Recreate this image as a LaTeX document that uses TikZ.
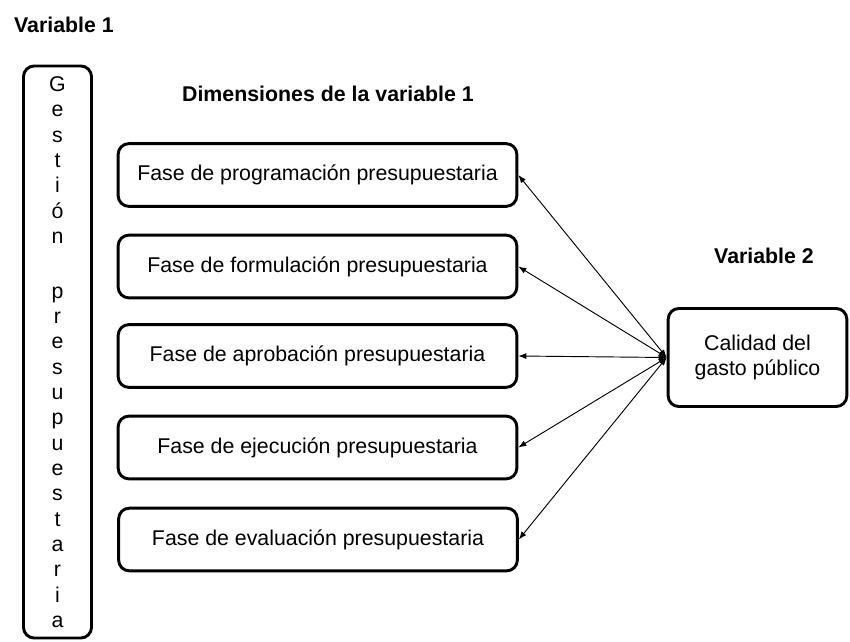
\documentclass[tikz,border=0pt]{standalone}
\usepackage{fontspec}
\setmainfont{Liberation Sans}
\usetikzlibrary{arrows.meta}

\tikzset{
    caja/.style={draw, line width=2.2pt, rounded corners=8pt, align=center,
        font=\fontsize{16pt}{19pt}\selectfont},
    cajafase/.style={caja, minimum width=299pt, minimum height=47pt},
    titulo/.style={anchor=base, font=\fontsize{16pt}{19pt}\selectfont\bfseries},
    flecha/.style={{Latex[length=6pt,width=4.5pt]}-{Latex[length=6pt,width=4.5pt]}, line width=0.7pt},
}

\begin{document}
\begin{tikzpicture}[x=0.75pt, y=-0.75pt]

    \useasboundingbox (0,0) rectangle (850,642);

    % Titulos
    \node [titulo] (var1) at (64,33) {Variable 1};
    \node [titulo] (dim) at (328,102) {Dimensiones de la variable 1};
    \node [titulo] (var2) at (764,263) {Variable 2};

    % Variable 1
    \node [caja, minimum width=51pt, minimum height=429pt] (gestion) at (57.5,352)
        {G\\e\\s\\t\\i\\ó\\n\\[22pt]p\\r\\e\\s\\u\\p\\u\\e\\s\\t\\a\\r\\i\\a};

    % Dimensiones
    \node [cajafase] (fase1) at (317.5,175) {Fase de programación presupuestaria};
    \node [cajafase] (fase2) at (317.5,266.5) {Fase de formulación presupuestaria};
    \node [cajafase] (fase3) at (317.5,356) {Fase de aprobación presupuestaria};
    \node [cajafase] (fase4) at (317.5,447.5) {Fase de ejecución presupuestaria};
    \node [cajafase] (fase5) at (318,539.5) {Fase de evaluación presupuestaria};

    % Variable 2
    \node [caja, minimum width=134pt, minimum height=73.5pt] (calidad) at (757.5,357.5)
        {Calidad del\\gasto público};

    % Relaciones
    \draw [flecha] (calidad.west) -- (fase1.east);
    \draw [flecha] (calidad.west) -- (fase2.east);
    \draw [flecha] (calidad.west) -- (fase3.east);
    \draw [flecha] (calidad.west) -- (fase4.east);
    \draw [flecha] (calidad.west) -- (fase5.east);

\end{tikzpicture}
\end{document}
